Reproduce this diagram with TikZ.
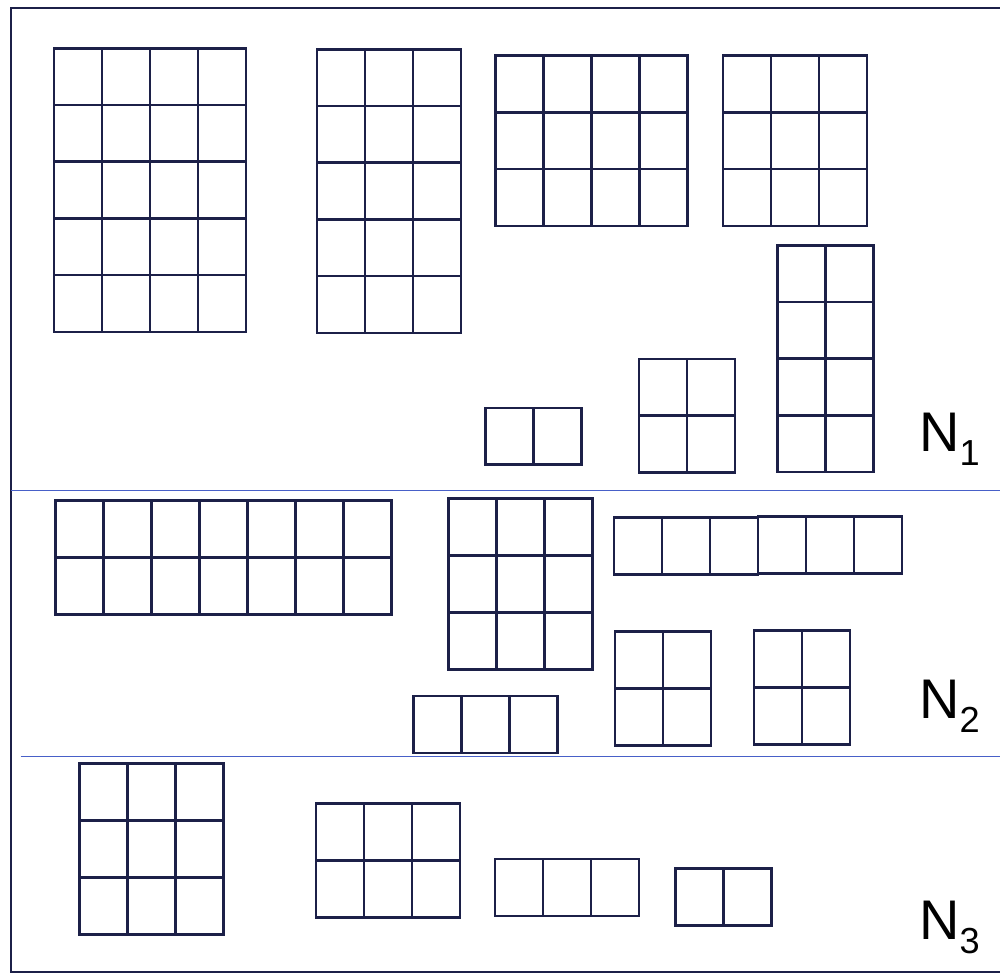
\documentclass[tikz,border=0pt]{standalone}
\usepackage{fontspec}
\setmainfont{Liberation Sans}
\usepackage{xcolor}
\definecolor{cellnavy}{RGB}{28,32,72}
\definecolor{divblue}{RGB}{72,96,200}
\usepackage{tikz}
\usetikzlibrary{positioning}

\begin{document}
\begin{tikzpicture}[
  x=0.02cm, y=-0.02cm,
  cell/.style={draw=cellnavy, line width=1.4pt},
  frame/.style={draw=cellnavy, line width=1.2pt},
  divline/.style={draw=divblue, line width=0.6pt},
  lbl/.style={font=\fontsize{31.8}{34}\selectfont, text=black, inner sep=0pt, anchor=base west}
]
\useasboundingbox (0,0) rectangle (1000,973);

% outer frame (open on the right)
\draw[frame] (1000,8) -- (11,8) -- (11,972) -- (1000,972);

% section dividers
\draw[divline] (11,490.5) -- (1000,490.5);
\draw[divline] (20.5,756.7) -- (1000,756.7);

% N1 blocks
\foreach \bx/\by/\nc/\nr in {54/48.3/4/5, 317/49.3/3/5, 495.7/55.7/4/3, 723/55.7/3/3,
                             777.3/245.3/2/4, 639/359/2/2, 485.7/408/2/1}
  \foreach \i in {1,...,\nc}
    \foreach \j in {1,...,\nr}
      \draw[cell] ({\bx+48*(\i-1)},{\by+56.7*(\j-1)}) rectangle ++(48,56.7);
\node[lbl] (n1) at (919,451.7) {N\raisebox{-0.28cm}{\fontsize{20.6}{22}\selectfont 1}};

% N2 blocks
\foreach \bx/\by/\nc/\nr in {55.7/500.7/7/2, 448.3/498.3/3/3, 614/517.7/3/1, 758/516.7/3/1,
                             413.3/696/3/1, 615/631.7/2/2, 754/630.7/2/2}
  \foreach \i in {1,...,\nc}
    \foreach \j in {1,...,\nr}
      \draw[cell] ({\bx+48*(\i-1)},{\by+57*(\j-1)}) rectangle ++(48,57);
\node[lbl] (n2) at (919,718.3) {N\raisebox{-0.28cm}{\fontsize{20.6}{22}\selectfont 2}};

% N3 blocks
\foreach \bx/\by/\nc/\nr in {79.3/763.3/3/3, 316/803.3/3/2, 495/859/3/1, 675.7/868.3/2/1}
  \foreach \i in {1,...,\nc}
    \foreach \j in {1,...,\nr}
      \draw[cell] ({\bx+48*(\i-1)},{\by+57*(\j-1)}) rectangle ++(48,57);
\node[lbl] (n3) at (919,939.3) {N\raisebox{-0.28cm}{\fontsize{20.6}{22}\selectfont 3}};
\end{tikzpicture}
\end{document}
